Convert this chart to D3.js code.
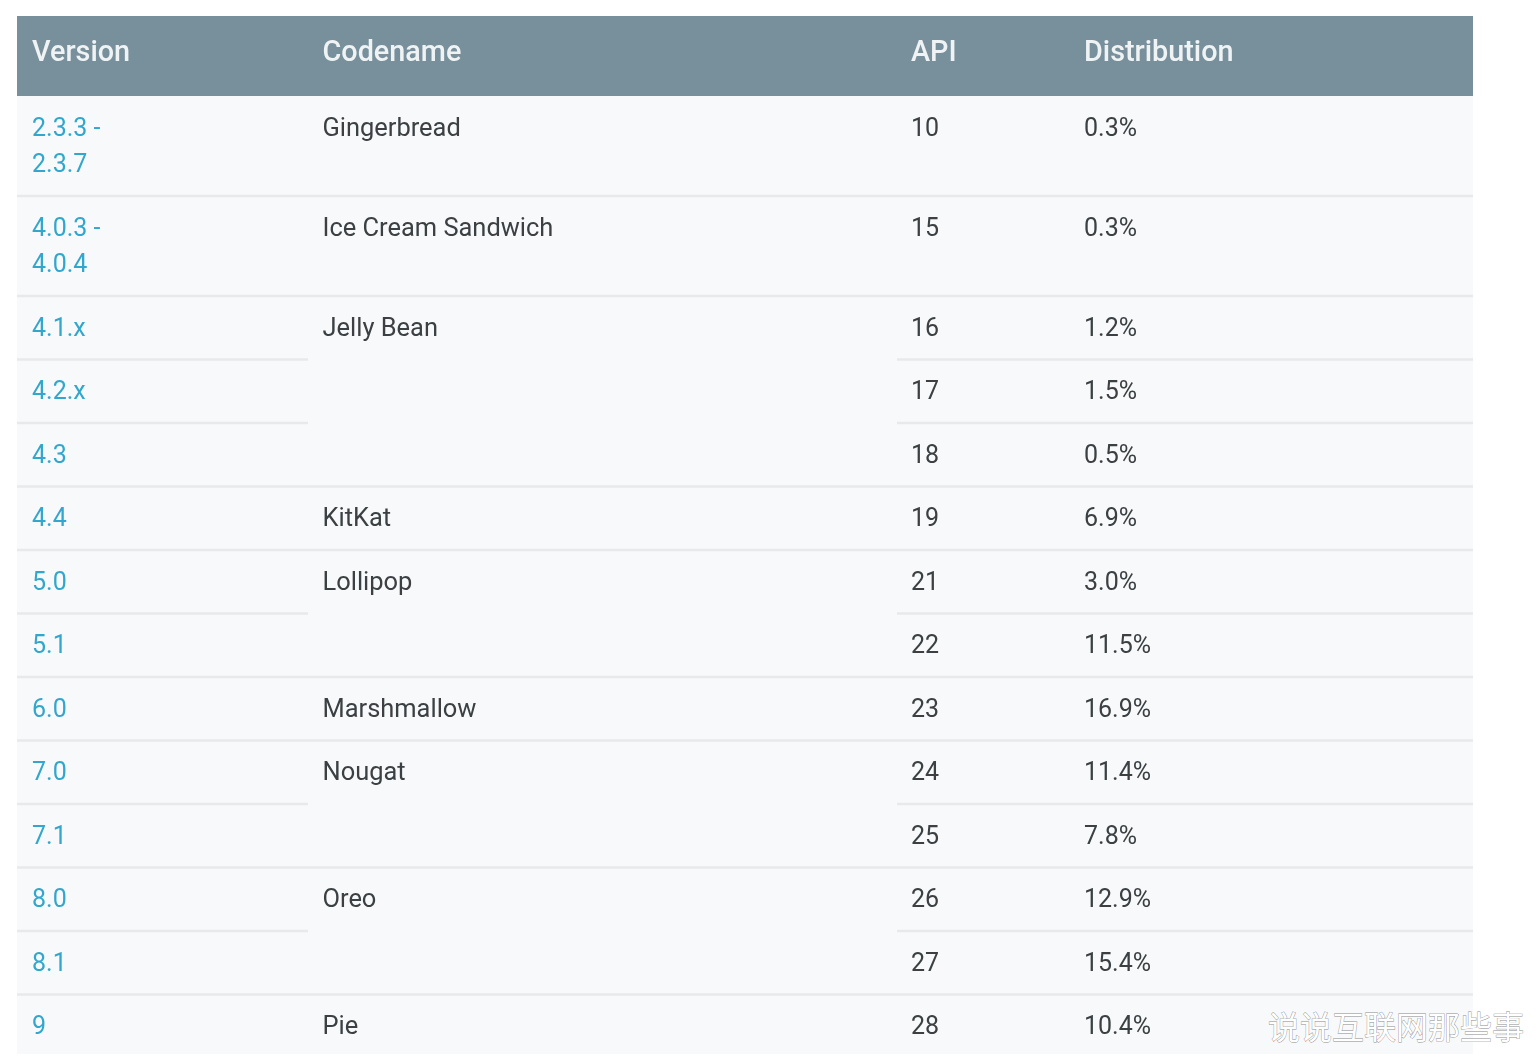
<!DOCTYPE html>
<html><head><meta charset="utf-8">
<script src="https://cdn.jsdelivr.net/npm/d3@7"></script>
<style>html,body{margin:0;padding:0;background:#fff}svg{display:block}</style>
</head><body><div id="c"></div>
<script>
const columns = ["Version","Codename","API","Distribution"];
const versions = [["2.3.3 -","2.3.7"],["4.0.3 -","4.0.4"],["4.1.x"],["4.2.x"],["4.3"],["4.4"],["5.0"],["5.1"],["6.0"],["7.0"],["7.1"],["8.0"],["8.1"],["9"]];
const codenames = ["Gingerbread","Ice Cream Sandwich","Jelly Bean","","","KitKat","Lollipop","","Marshmallow","Nougat","","Oreo","","Pie"];
const apis = ["10","15","16","17","18","19","21","22","23","24","25","26","27","28"];
const distribution = ["0.3%","0.3%","1.2%","1.5%","0.5%","6.9%","3.0%","11.5%","16.9%","11.4%","7.8%","12.9%","15.4%","10.4%"];

const W=1540,H=1064;
const svg=d3.select("#c").append("svg").attr("width",W).attr("height",H);
const defs=svg.append("defs");
defs.append("filter").attr("id","soft").append("feGaussianBlur").attr("stdDeviation",0.55);

const rowH=v=>v.length===2?100:63.5;
const cum=[0]; versions.forEach(v=>cum.push(cum[cum.length-1]+rowH(v)));
const y=d3.scaleLinear().domain([0,cum[cum.length-1]]).range([96,96+cum[cum.length-1]]);
const x=d3.scaleOrdinal().domain(columns).range([32,322.5,911,1084]);
const left=17,right=1473,bottom=1054;
const font="Roboto, sans-serif";

svg.append("rect").attr("x",left).attr("y",96).attr("width",right-left).attr("height",bottom-96).attr("fill","#f7f9fa");
svg.append("rect").attr("x",left).attr("y",16).attr("width",right-left).attr("height",80).attr("fill","#78909c");

const g=svg.append("g").attr("filter","url(#soft)");

const lineColor="#e7e9eb";
versions.forEach((v,i)=>{
  if(i===versions.length-1) return;
  const yy=y(cum[i+1]);
  const merged=codenames[i+1]==="";
  const segs=merged?[[left,308],[897,right]]:[[left,right]];
  segs.forEach(s=>g.append("line").attr("x1",s[0]).attr("x2",s[1]).attr("y1",yy).attr("y2",yy)
    .attr("stroke",lineColor).attr("stroke-width",2.4));
});

g.selectAll("text.h").data(columns).join("text").attr("class","h")
  .attr("x",d=>x(d)).attr("y",61).text(d=>d)
  .attr("font-family",font).attr("font-size",28.8).attr("font-weight",500)
  .attr("fill","#f0f3f4");

const textAttrs=(s,c,size)=>s.attr("font-family",font).attr("font-size",size).attr("fill",c);
const base=i=>y(cum[i])+39.5;

versions.forEach((v,i)=>{
  v.forEach((t,j)=>{
    g.append("text").attr("x",x("Version")).attr("y",base(i)+j*36).text(t).call(textAttrs,"#33a6cd",25);
  });
});
g.selectAll("text.c").data(codenames).join("text").attr("class","c")
  .attr("x",x("Codename")).attr("y",(d,i)=>base(i)).text(d=>d).call(textAttrs,"#3c4043",25.45);
g.selectAll("text.a").data(apis).join("text").attr("class","a")
  .attr("x",x("API")).attr("y",(d,i)=>base(i)).text(d=>d).call(textAttrs,"#3c4043",25);
g.selectAll("text.d").data(distribution).join("text").attr("class","d")
  .attr("x",x("Distribution")).attr("y",(d,i)=>base(i)).text(d=>d).call(textAttrs,"#3c4043",25);

svg.append("text").attr("x",1268).attr("y",1039).text("说说互联网那些事")
  .attr("font-family","'Noto Sans CJK SC', sans-serif").attr("font-size",32)
  .attr("fill","#ffffff").attr("stroke","#8c8c8c").attr("stroke-width",0.8).attr("paint-order","stroke");
</script></body></html>
